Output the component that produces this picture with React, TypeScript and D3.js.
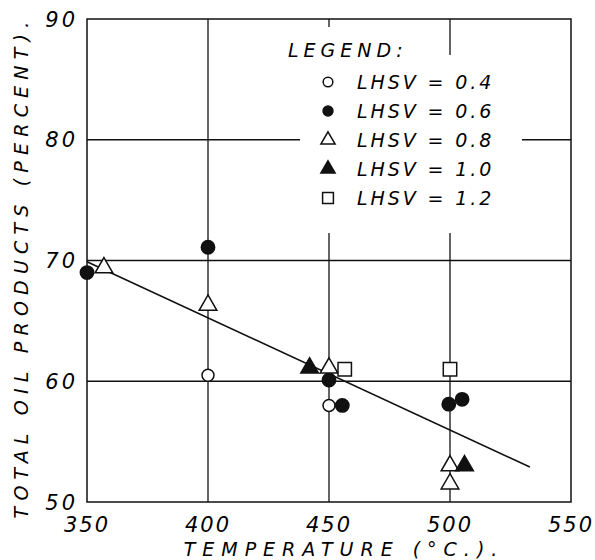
import * as d3 from 'd3';
import React from 'react';

// Values (temperature °C, total oil products %)
const lhsv04 = [[400, 60.5], [450, 58.0]];
const lhsv06 = [[350, 69.0], [400, 71.1], [450, 60.1], [455.5, 58.0], [499.5, 58.1], [505, 58.5]];
const lhsv08 = [[357, 69.4], [400, 66.3], [450, 61.1], [500, 53.0], [500, 51.5]];
const lhsv10 = [[442, 61.1], [506, 53.0]];
const lhsv12 = [[456.5, 61.0], [500, 61.0]];
const fitLine = [[350, 69.9], [533, 52.9]];

const xTicks = [350, 400, 450, 500, 550];
const yTicks = [50, 60, 70, 80, 90];
const legendLabels = ['LHSV = 0.4', 'LHSV = 0.6', 'LHSV = 0.8', 'LHSV = 1.0', 'LHSV = 1.2'];

const font = '"DejaVu Sans", sans-serif';

const Marker = ({ kind, x, y, scale = 1 }) => {
  const sym = {
    openCircle: d3.symbol(d3.symbolCircle, 113 * scale)(),
    dot: d3.symbol(d3.symbolCircle, 140 * scale)(),
    openTri: d3.symbol(d3.symbolTriangle, 135 * scale)(),
    tri: d3.symbol(d3.symbolTriangle, 135 * scale)(),
    square: d3.symbol(d3.symbolSquare, 180 * scale)(),
  }[kind];
  const filled = kind === 'dot' || kind === 'tri';
  return (
    <path
      d={sym}
      transform={`translate(${x},${y})`}
      fill={filled ? '#111' : '#fff'}
      stroke="#111"
      strokeWidth={1.5}
    />
  );
};

export default function App() {
  const width = 595;
  const height = 560;
  const margin = { top: 19, right: 24, bottom: 58, left: 87 };

  const xScale = d3.scaleLinear().domain([350, 550]).range([margin.left, width - margin.right]);
  const yScale = d3.scaleLinear().domain([50, 90]).range([height - margin.bottom, margin.top]);

  const line = d3
    .line()
    .x((d) => xScale(d[0]))
    .y((d) => yScale(d[1]));

  const series = [
    { kind: 'openCircle', data: lhsv04 },
    { kind: 'dot', data: lhsv06 },
    { kind: 'openTri', data: lhsv08 },
    { kind: 'tri', data: lhsv10 },
    { kind: 'square', data: lhsv12 },
  ];

  const x0 = xScale(350);
  const x1 = xScale(550);
  const y0 = yScale(50);
  const y1 = yScale(90);

  return (
    <svg
      width={width}
      height={height}
      style={{ position: 'absolute', left: 0, top: 0, background: '#fff' }}
    >
      {/* grid */}
      {xTicks.slice(1, -1).map((t) => (
        <line key={'gx' + t} x1={xScale(t)} x2={xScale(t)} y1={y0} y2={y1} stroke="#111" strokeWidth={1.3} />
      ))}
      {yTicks.slice(1, -1).map((t) => (
        <line key={'gy' + t} x1={x0} x2={x1} y1={yScale(t)} y2={yScale(t)} stroke="#111" strokeWidth={1.3} />
      ))}

      {/* legend block (white knockout over grid) */}
      <rect x={286} y={27} width={134} height={30} fill="#fff" />
      <rect x={300} y={55} width={222} height={178} fill="#fff" />
      <text
        x={288}
        y={57}
        fontFamily={font}
        fontStyle="italic"
        fontSize={19}
        letterSpacing={5}
      >
        LEGEND:
      </text>
      {legendLabels.map((lab, i) => (
        <g key={lab}>
          <Marker kind={series[i].kind} x={328} y={82 + i * 29} scale={i === 1 ? 0.55 : 0.65} />
          <text
            x={357}
            y={89 + i * 29}
            fontFamily={font}
            fontStyle="italic"
            fontSize={19}
            letterSpacing={2.9}
          >
            {lab}
          </text>
        </g>
      ))}

      {/* frame */}
      <rect x={x0} y={y1} width={x1 - x0} height={y0 - y1} fill="none" stroke="#111" strokeWidth={1.5} />

      {/* fitted line */}
      <path d={line(fitLine)} fill="none" stroke="#111" strokeWidth={1.6} />

      {/* points */}
      {series.map((s) =>
        s.data.map((d, i) => (
          <Marker key={s.kind + i} kind={s.kind} x={xScale(d[0])} y={yScale(d[1])} />
        ))
      )}

      {/* tick labels */}
      {yTicks.map((t) => (
        <text
          key={'yl' + t}
          x={78}
          y={yScale(t)}
          dy="0.36em"
          textAnchor="end"
          fontFamily={font}
          fontStyle="italic"
          fontSize={21}
          letterSpacing={3}
        >
          {t}
        </text>
      ))}
      {xTicks.map((t) => (
        <text
          key={'xl' + t}
          x={xScale(t)}
          y={524}
          dy="0.36em"
          textAnchor="middle"
          fontFamily={font}
          fontStyle="italic"
          fontSize={21}
          letterSpacing={2}
        >
          {t}
        </text>
      ))}

      {/* axis titles */}
      <text
        x={344}
        y={549}
        dy="0.36em"
        textAnchor="middle"
        fontFamily={font}
        fontStyle="italic"
        fontSize={19}
        letterSpacing={7}
      >
        TEMPERATURE (°C.).
      </text>
      <text
        transform={`translate(21,267) rotate(-90)`}
        dy="0.36em"
        textAnchor="middle"
        fontFamily={font}
        fontStyle="italic"
        fontSize={19}
        letterSpacing={6.2}
      >
        TOTAL OIL PRODUCTS (PERCENT).
      </text>
    </svg>
  );
}
